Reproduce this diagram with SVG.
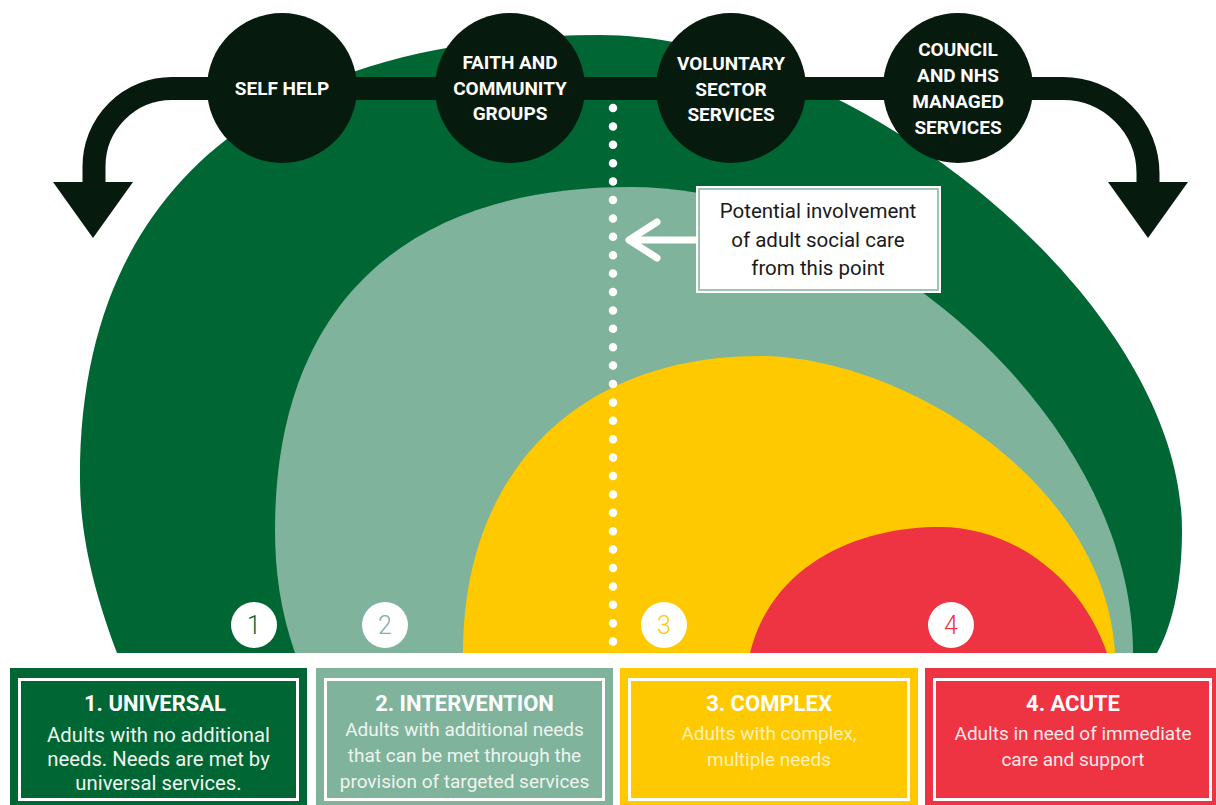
<svg xmlns="http://www.w3.org/2000/svg" width="1216" height="805" viewBox="0 0 1216 805">
<style>
.lbl{font-family:Roboto,"Liberation Sans",sans-serif;font-weight:700;font-size:19px;fill:#ffffff;text-anchor:middle}
.num{font-family:Roboto,"Liberation Sans",sans-serif;font-weight:300;font-size:25px;text-anchor:middle}
.ttl{font-family:Roboto,"Liberation Sans",sans-serif;font-weight:700;font-size:22px;fill:#ffffff;text-anchor:middle}
.body{font-family:Roboto,"Liberation Sans",sans-serif;font-weight:400;font-size:19px;text-anchor:middle}
.big{font-size:20.3px}
.note{font-family:Roboto,"Liberation Sans",sans-serif;font-weight:400;font-size:20.5px;fill:#1a1a1a;text-anchor:middle}
.dark{fill:#061a0e}
.inner{fill:none;stroke:#ffffff;stroke-width:3}
.badge{fill:#ffffff}
</style>
<rect width="1216" height="805" fill="#ffffff"/>

<g id="level-1-area">
<path fill="#006633" d="M117,653 C97,600 80,540 80,480 C78,180 280,35 600,35 C850,35 1182,300 1182,530 C1182,590 1170,630 1157,653 Z"/>
</g>
<g id="level-2-area">
<path fill="#7fb39b" d="M295,653 C280,610 275,570 275,530 C275,310 400,187 630,187 C870,187 1133,420 1133,653 Z"/>
</g>
<g id="level-3-area">
<path fill="#ffc900" d="M463,653 C463,470 580,356 760,356 C900,356 1105,480 1115,653 Z"/>
</g>
<g id="level-4-area">
<path fill="#ee3342" d="M750,653 C770,570 850,527 940,527 C1010,527 1080,575 1107,653 Z"/>
</g>

<g id="connectors">
<line x1="613" y1="108" x2="613" y2="642" stroke="#ffffff" stroke-width="8.5" stroke-linecap="round" stroke-dasharray="0 18.4"/>
<g stroke="#ffffff" stroke-width="7" stroke-linecap="round" stroke-linejoin="round" fill="none">
<line x1="630" y1="240" x2="697" y2="240"/>
<polyline points="657,222 629,240 657,258"/>
</g>
<path d="M94,185 L94,166.5 A78,78 0 0 1 172,88.5 L1063,88.5 A85,85 0 0 1 1148,173.5 L1148,185" fill="none" stroke="#061a0e" stroke-width="23"/>
<polygon class="dark" points="53,182 133,182 93,238"/>
<polygon class="dark" points="1108,182 1188,182 1148,238"/>
</g>

<g id="note">
<rect x="696" y="186" width="245" height="107" fill="#ffffff"/>
<rect x="699" y="189" width="239" height="101" fill="none" stroke="#7fb39b" stroke-width="1.5"/>
<text class="note" x="818" y="218">Potential involvement</text>
<text class="note" x="818" y="247">of adult social care</text>
<text class="note" x="818" y="275">from this point</text>
</g>

<g id="self-help">
<circle class="dark" cx="282" cy="88" r="75"/>
<text class="lbl" x="282" y="95">SELF HELP</text>
</g>
<g id="faith-community">
<circle class="dark" cx="510" cy="88" r="75"/>
<text class="lbl" x="510" y="69">FAITH AND</text>
<text class="lbl" x="510" y="94.5">COMMUNITY</text>
<text class="lbl" x="510" y="120">GROUPS</text>
</g>
<g id="voluntary-sector">
<circle class="dark" cx="731" cy="88" r="75"/>
<text class="lbl" x="731" y="70">VOLUNTARY</text>
<text class="lbl" x="731" y="96">SECTOR</text>
<text class="lbl" x="731" y="121">SERVICES</text>
</g>
<g id="council-nhs">
<circle class="dark" cx="958" cy="88" r="75"/>
<text class="lbl" x="958" y="56">COUNCIL</text>
<text class="lbl" x="958" y="82">AND NHS</text>
<text class="lbl" x="958" y="108">MANAGED</text>
<text class="lbl" x="958" y="134">SERVICES</text>
</g>

<g id="badge-1"><circle class="badge" cx="254" cy="625" r="23"/><text class="num" x="254" y="634" fill="#006633">1</text></g>
<g id="badge-2"><circle class="badge" cx="385" cy="625" r="23"/><text class="num" x="385" y="634" fill="#7fb39b">2</text></g>
<g id="badge-3"><circle class="badge" cx="664" cy="625" r="23"/><text class="num" x="664" y="634" fill="#ffc900">3</text></g>
<g id="badge-4"><circle class="badge" cx="951" cy="625" r="23"/><text class="num" x="951" y="634" fill="#ee3342">4</text></g>

<g id="box-universal">
<rect x="10" y="668" width="297" height="137" fill="#006633"/>
<rect class="inner" x="19.5" y="679.5" width="278" height="120"/>
<text class="ttl" x="155" y="711">1. UNIVERSAL</text>
<text class="body big" x="158.5" y="742" fill="#eef5ef">Adults with no additional</text>
<text class="body big" x="158.5" y="766" fill="#eef5ef">needs. Needs are met by</text>
<text class="body big" x="158.5" y="790" fill="#eef5ef">universal services.</text>
</g>
<g id="box-intervention">
<rect x="316" y="668" width="297" height="137" fill="#7fb39b"/>
<rect class="inner" x="325.5" y="679.5" width="278" height="120"/>
<text class="ttl" x="464.5" y="711">2. INTERVENTION</text>
<text class="body" x="464.5" y="735.5" fill="#eef5f0">Adults with additional needs</text>
<text class="body" x="464.5" y="761.5" fill="#eef5f0">that can be met through the</text>
<text class="body" x="464.5" y="787.5" fill="#eef5f0">provision of targeted services</text>
</g>
<g id="box-complex">
<rect x="620" y="668" width="298" height="137" fill="#ffc900"/>
<rect class="inner" x="629.5" y="679.5" width="279" height="120"/>
<text class="ttl" x="769" y="711">3. COMPLEX</text>
<text class="body" x="769" y="739.5" fill="#fff1b8">Adults with complex,</text>
<text class="body" x="769" y="765.5" fill="#fff1b8">multiple needs</text>
</g>
<g id="box-acute">
<rect x="925" y="668" width="291" height="137" fill="#ee3342"/>
<rect class="inner" x="934.5" y="679.5" width="276" height="120"/>
<text class="ttl" x="1073" y="711">4. ACUTE</text>
<text class="body" x="1073" y="739.5" fill="#fde8ea">Adults in need of immediate</text>
<text class="body" x="1073" y="765.5" fill="#fde8ea">care and support</text>
</g>
</svg>
